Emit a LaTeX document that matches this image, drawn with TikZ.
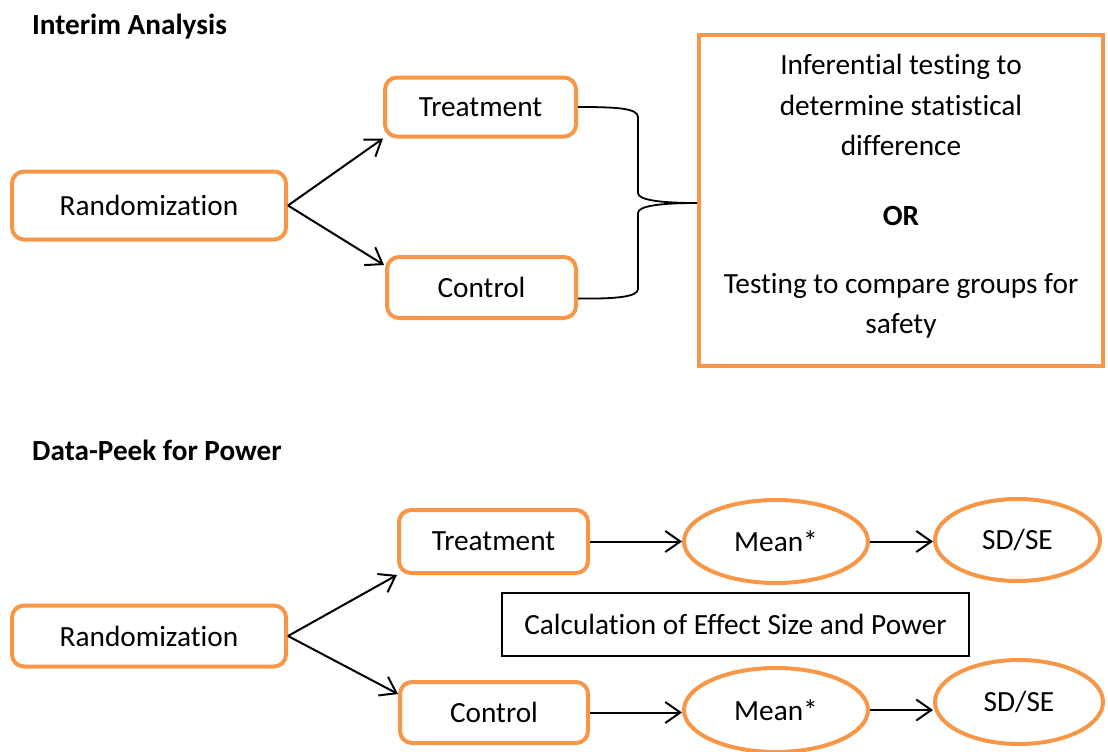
\documentclass[tikz,border=0pt]{standalone}
\usepackage{fontspec}
\setmainfont{Carlito}[Ligatures={NoCommon,NoContextual}]
\usetikzlibrary{arrows.meta,shapes.geometric,calc}
\definecolor{org}{HTML}{F79646}
\begin{document}
\begin{tikzpicture}[x=1pt,y=-1pt,
  font=\fontsize{29.3}{40.5}\selectfont,
  rbox/.style={draw=org,line width=4pt,rounded corners=12pt,inner sep=0pt},
  obox/.style={draw=org,line width=4pt,ellipse,inner sep=0pt},
  sqbox/.style={draw=org,line width=4pt,inner sep=0pt},
  calcbox/.style={draw=black,line width=1.2pt,inner sep=0pt},
  txt/.style={inner sep=0pt,align=center},
  ttl/.style={inner sep=0pt,anchor=west,font=\fontsize{29.2}{30}\selectfont\bfseries},
  arr/.style={draw=black,line width=2pt,-{Straight Barb[length=15pt,width=21pt]}},
  brace/.style={draw=black,line width=1.8pt}]
\useasboundingbox (0,0) rectangle (1108,752);

% ---------- Interim Analysis ----------
\node[ttl] (title1) at (32,27) {Interim Analysis};
\node[rbox,minimum width=274,minimum height=68] (r1) at (149,205.5) {Randomization};
\node[rbox,minimum width=191,minimum height=59] (t1) at (480.5,107) {Treatment};
\node[rbox,minimum width=189,minimum height=61] (c1) at (481.5,287.5) {Control};
\node[sqbox,minimum width=404,minimum height=331] (big) at (901,200.5) {};
\node[txt] (bt1) at (901,105) {Inferential testing to\\determine statistical\\difference};
\node[txt,font=\fontsize{29.3}{40}\selectfont\bfseries] (bor) at (901,216) {OR};
\node[txt] (bt2) at (901,306) {Testing to compare groups for\\safety};

\draw[arr] (r1.east) -- (t1.south west);
\draw[arr] (r1.east) -- ($(c1.north west)+(-1,10)$);

\coordinate (tip) at (big.west |- 0,203);
\draw[brace] (t1.east) .. controls (615,107) and (638,108) .. (638,117)
  -- (638,193) .. controls (638,200) and (660,203) .. (tip)
  .. controls (660,203) and (638,206) .. (638,213)
  -- (638,289) .. controls (638,297) and (615,299) .. ($(c1.east)+(0,11)$);

% ---------- Data-Peek for Power ----------
\node[ttl] (title2) at (32,450) {Data-Peek for Power};
\node[rbox,minimum width=274,minimum height=61] (r2) at (149,636) {Randomization};
\node[rbox,minimum width=189,minimum height=63] (t2) at (493.5,541.5) {Treatment};
\node[rbox,minimum width=188,minimum height=61] (c2) at (494,712.5) {Control};
\node[obox,minimum width=184,minimum height=83] (m1) at (776,541.5) {Mean*};
\node[obox,minimum width=165,minimum height=82] (s1) at (1017.5,540) {SD/SE};
\node[calcbox,minimum width=467,minimum height=63] (calc) at (735.5,624.5) {Calculation of Effect Size and Power};
\node[obox,minimum width=184,minimum height=84] (m2) at (776,710) {Mean*};
\node[obox,minimum width=168,minimum height=84] (s2) at (1019,702) {SD/SE};

\draw[arr] (r2.east) -- (t2.south west);
\draw[arr] (r2.east) -- ($(c2.north west)+(0,14)$);
\draw[arr] (t2.east) -- (m1.west);
\draw[arr] (m1.east) -- (s1.west |- m1.east);
\draw[arr] (c2.east) -- (m2.west |- c2.east);
\draw[arr] (m2.east) -- (s2.west |- m2.east);
\end{tikzpicture}
\end{document}
